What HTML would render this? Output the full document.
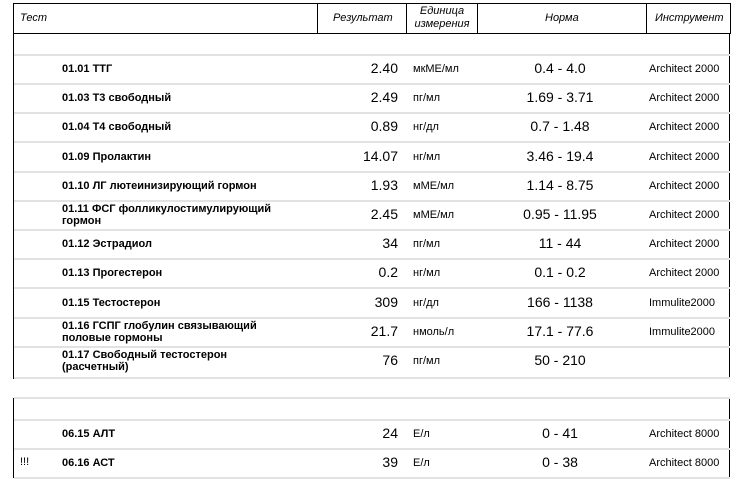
<!DOCTYPE html>
<html><head><meta charset="utf-8"><style>
body{margin:0;width:739px;height:487px;background:#fff;font-family:"Liberation Sans",sans-serif;color:#000;position:relative;overflow:hidden}
.a{position:absolute;white-space:nowrap}
.hd{font-style:italic;font-size:11px}
.n{font-weight:bold;font-size:11px;line-height:12px}
.v{font-size:14px;text-align:right;width:80px}
.u{font-size:11px}
.r{font-size:14px;text-align:center;width:160px}
.i{font-size:11px}
.sep{position:absolute;left:14px;width:716px;height:2px;background:#e2e2e2}
.lb{position:absolute;left:13px;width:1px;background:#000}
.rb{position:absolute;left:729px;width:1px;background:#000}
</style></head><body>
<div class="a" style="left:13px;top:3px;width:716px;height:29px;border:1px solid #000"></div>
<div class="a" style="left:317px;top:3px;width:1px;height:31px;background:#000"></div>
<div class="a" style="left:406px;top:3px;width:1px;height:31px;background:#000"></div>
<div class="a" style="left:477px;top:3px;width:1px;height:31px;background:#000"></div>
<div class="a" style="left:646px;top:3px;width:1px;height:31px;background:#000"></div>
<div class="a hd" style="left:20px;top:12px">Тест</div>
<div class="a hd" style="left:333px;top:12px">Результат</div>
<div class="a hd" style="left:411px;top:5px;width:62px;text-align:center;line-height:13px;white-space:normal">Единица измерения</div>
<div class="a hd" style="left:545px;top:12px">Норма</div>
<div class="a hd" style="left:655px;top:12px">Инструмент</div>
<div class="lb" style="top:33px;height:346px"></div><div class="rb" style="top:33px;height:346px"></div>
<div class="sep" style="top:54px"></div>
<div class="lb" style="top:398px;height:80px"></div><div class="rb" style="top:398px;height:80px"></div>
<div class="sep" style="top:397px"></div>
<div class="sep" style="top:377px"></div>
<div class="sep" style="top:419px"></div>
<div class="sep" style="top:448px"></div>
<div class="sep" style="top:477px"></div>
<div id="rows"></div>
<script>
var d=[["01.01 ТТГ","2.40","мкМЕ/мл","0.4 - 4.0","Architect 2000"],
["01.03 Т3 свободный","2.49","пг/мл","1.69 - 3.71","Architect 2000"],
["01.04 Т4 свободный","0.89","нг/дл","0.7 - 1.48","Architect 2000"],
["01.09 Пролактин","14.07","нг/мл","3.46 - 19.4","Architect 2000"],
["01.10 ЛГ лютеинизирующий гормон","1.93","мМЕ/мл","1.14 - 8.75","Architect 2000"],
["01.11 ФСГ фолликулостимулирующий<br>гормон","2.45","мМЕ/мл","0.95 - 11.95","Architect 2000"],
["01.12 Эстрадиол","34","пг/мл","11 - 44","Architect 2000"],
["01.13 Прогестерон","0.2","нг/мл","0.1 - 0.2","Architect 2000"],
["01.15 Тестостерон","309","нг/дл","166 - 1138","Immulite2000"],
["01.16 ГСПГ глобулин связывающий<br>половые гормоны","21.7","нмоль/л","17.1 - 77.6","Immulite2000"],
["01.17 Свободный тестостерон<br>(расчетный)","76","пг/мл","50 - 210",""]];
var h="";
function row(r,c,bang){
 var two=r[0].indexOf("<br>")>=0;
 h+='<div class="a n" style="left:62px;top:'+(two?c-12:c-6)+'px">'+r[0]+'</div>';
 h+='<div class="a v" style="left:318px;top:'+(c-9)+'px">'+r[1]+'</div>';
 h+='<div class="a u" style="left:413px;top:'+(c-6)+'px">'+r[2]+'</div>';
 h+='<div class="a r" style="left:480px;top:'+(c-9)+'px">'+r[3]+'</div>';
 h+='<div class="a i" style="left:649px;top:'+(c-6)+'px">'+r[4]+'</div>';
 if(bang)h+='<div class="a u" style="left:20px;top:'+(c-7)+'px">!!!</div>';
}
for(var k=0;k<d.length;k++){var c=Math.round(69+29.2*k);row(d[k],c);
 if(k<d.length-1)h+='<div class="sep" style="top:'+(Math.round(83+29.2*k))+'px"></div>';}
row(["06.15 АЛТ","24","Е/л","0 - 41","Architect 8000"],434);
row(["06.16 АСТ","39","Е/л","0 - 38","Architect 8000"],463,1);
document.getElementById("rows").innerHTML=h;
</script>
</body></html>
